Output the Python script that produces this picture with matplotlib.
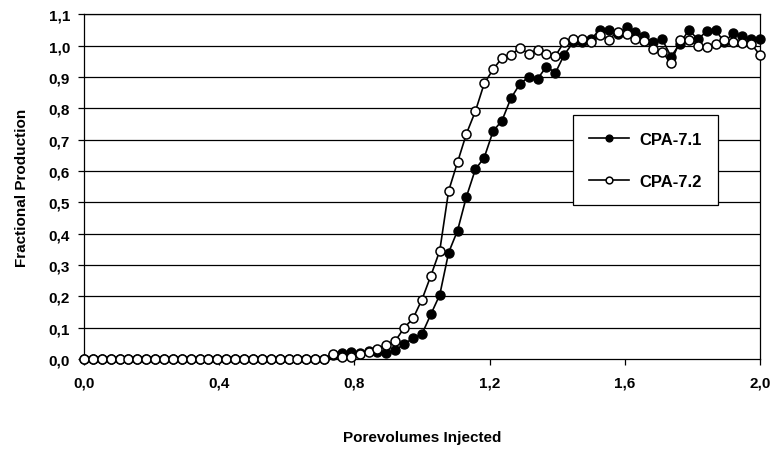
import numpy as np
import matplotlib
matplotlib.use("Agg")
import matplotlib.pyplot as plt

plt.rcParams['font.family'] = ['Liberation Sans', 'DejaVu Sans']
plt.rcParams['font.weight'] = 'bold'

# porevolumes injected, one sample every 2/76 PV
pv = np.linspace(0.0, 2.0, 77)

cpa71 = [0.0] * 28 + [
    0.014, 0.019, 0.022, 0.019, 0.026, 0.022, 0.019, 0.029, 0.048, 0.067,
    0.080, 0.143, 0.205, 0.340, 0.410, 0.518, 0.605, 0.643, 0.727, 0.761,
    0.832, 0.877, 0.900, 0.894, 0.933, 0.913, 0.971, 1.010, 1.012, 1.020,
    1.051, 1.051, 1.036, 1.058, 1.044, 1.030, 1.010, 1.020, 0.965, 1.005,
    1.050, 1.020, 1.045, 1.050, 1.010, 1.040, 1.030, 1.020, 1.020]

cpa72 = [0.0] * 28 + [
    0.015, 0.007, 0.007, 0.016, 0.024, 0.034, 0.045, 0.058, 0.100, 0.130,
    0.190, 0.266, 0.346, 0.537, 0.628, 0.719, 0.790, 0.879, 0.924, 0.961,
    0.969, 0.993, 0.974, 0.986, 0.974, 0.967, 1.012, 1.022, 1.022, 1.010,
    1.035, 1.019, 1.044, 1.038, 1.022, 1.015, 0.990, 0.979, 0.945, 1.017,
    1.017, 1.000, 0.996, 1.006, 1.017, 1.012, 1.008, 1.005, 0.970]

xticks = [0.0, 0.4, 0.8, 1.2, 1.6, 2.0]
xticklabels = ['0,0', '0,4', '0,8', '1,2', '1,6', '2,0']
yticks = [i / 10 for i in range(12)]
yticklabels = ['0,0', '0,1', '0,2', '0,3', '0,4', '0,5',
               '0,6', '0,7', '0,8', '0,9', '1,0', '1,1']

fig = plt.figure(figsize=(7.7, 4.6), dpi=100)
ax = fig.add_axes([0.109, 0.217, 0.878, 0.750])

for y in yticks[1:]:
    ax.axhline(y, color='black', lw=0.9, zorder=1)

ax.plot(pv, cpa71, '-o', color='black', lw=1.2, ms=6.5, mfc='black',
        mec='black', mew=1.0, clip_on=False, zorder=3, label='CPA-7.1')
ax.plot(pv, cpa72, '-o', color='black', lw=1.2, ms=6.5, mfc='white',
        mec='black', mew=1.1, clip_on=False, zorder=4, label='CPA-7.2')

ax.set_xlim(0, 2.0)
ax.set_ylim(0, 1.1)
ax.set_xticks(xticks)
ax.set_xticklabels(xticklabels)
ax.set_yticks(yticks)
ax.set_yticklabels(yticklabels)
ax.tick_params(axis='both', direction='out', length=4, width=0.9,
               labelsize=11, color='black')
ax.tick_params(axis='y', pad=6)
ax.tick_params(axis='x', pad=8)
for s in ax.spines.values():
    s.set_linewidth(0.9)
    s.set_color('black')

ax.set_xlabel('Porevolumes Injected', fontsize=11, fontweight='bold', labelpad=29)
ax.set_ylabel('Fractional Production', fontsize=11, fontweight='bold', labelpad=14)

leg = ax.legend(loc='upper left', bbox_to_anchor=(0.723, 0.707), fontsize=12,
                frameon=True, fancybox=False, edgecolor='black', framealpha=1,
                borderpad=1.0, labelspacing=1.6, handlelength=2.4,
                handletextpad=0.6, markerscale=0.75, borderaxespad=0)
leg.get_frame().set_linewidth(0.9)

fig.savefig('out.png', dpi=100)
